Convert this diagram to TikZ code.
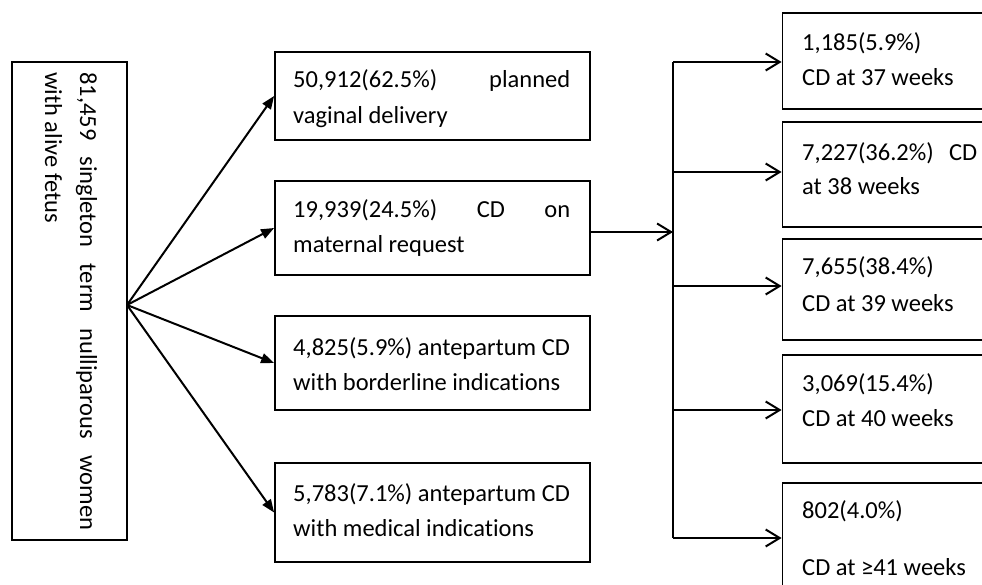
\documentclass[tikz,border=0pt]{standalone}
\usepackage{fontspec}
\setmainfont{Carlito}[Ligatures=NoCommon]
\usetikzlibrary{arrows.meta}
\begin{document}
\begin{tikzpicture}[x=1pt,y=-1pt,
  box/.style={draw,line width=1.8pt,inner sep=0pt,minimum width=#1},
  txt/.style={anchor=base west,inner sep=0pt,font=\fontsize{24.5}{36}\selectfont},
  fanarrow/.style={line width=2pt,-{Triangle[length=13pt,width=10pt]}},
  barb/.style={line width=2pt,-{Straight Barb[length=14pt,width=17pt,line width=2pt]}}]
\useasboundingbox (0,0) rectangle (982,585);
\clip (0,0) rectangle (982,585);
% left box
\node[box=115pt,minimum height=478pt] (left) at (69.5,301) {};
\node[txt,rotate=-90] (l1) at (80,72) {\hbox to 458pt{81,459\hfill singleton\hfill term\hfill nulliparous\hfill women}};
\node[txt,rotate=-90] (l2) at (45,72) {with alive fetus};
% middle boxes
\node[box=315pt,minimum height=88pt] (m1) at (432.5,96) {};
\node[box=315pt,minimum height=94pt] (m2) at (432.5,228) {};
\node[box=315pt,minimum height=94pt] (m3) at (432.5,363) {};
\node[box=315pt,minimum height=99pt] (m4) at (432.5,512.5) {};
\node[txt] (m1a) at (293,88) {\hbox to 277pt{50,912(62.5\%)\hfill planned}};
\node[txt] (m1b) at (293,124) {vaginal delivery};
\node[txt] (m2a) at (293,218) {\hbox to 277pt{19,939(24.5\%)\hfill CD\hfill on}};
\node[txt] (m2b) at (293,253) {maternal request};
\node[txt] (m3a) at (293,355) {4,825(5.9\%) antepartum CD};
\node[txt] (m3b) at (293,390) {with borderline indications};
\node[txt] (m4a) at (293,501) {5,783(7.1\%) antepartum CD};
\node[txt] (m4b) at (293,536) {with medical indications};
% right boxes
\node[box=213pt,minimum height=96pt] (r1) at (889,61) {};
\node[box=213pt,minimum height=105pt] (r2) at (889,174.5) {};
\node[box=213pt,minimum height=101pt] (r3) at (889,289.5) {};
\node[box=213pt,minimum height=108pt] (r4) at (889,409) {};
\node[box=213pt,minimum height=110pt] (r5) at (889,538) {};
\node[txt] (r1a) at (802,51) {1,185(5.9\%)};
\node[txt] (r1b) at (802,86) {CD at 37 weeks};
\node[txt] (r2a) at (802,161) {\hbox to 175pt{7,227(36.2\%)\hfill CD}};
\node[txt] (r2b) at (802,195) {at 38 weeks};
\node[txt] (r3a) at (802,275) {7,655(38.4\%)};
\node[txt] (r3b) at (802,311) {CD at 39 weeks};
\node[txt] (r4a) at (802,391) {3,069(15.4\%)};
\node[txt] (r4b) at (802,426) {CD at 40 weeks};
\node[txt] (r5a) at (802,518) {802(4.0\%)};
\node[txt] (r5b) at (802,575) {CD at ≥41 weeks};
% fan arrows
\coordinate (fan) at (127,305);
\foreach \m in {m1,m2,m3,m4} \draw[fanarrow] (fan) -- (\m.west);
% right connector tree
\coordinate (j) at (673,232);
\coordinate (b1) at (673,62);
\coordinate (b2) at (673,172);
\coordinate (b3) at (673,286);
\coordinate (b4) at (673,410);
\coordinate (b5) at (673,538);
\draw[barb] (m2.east |- j) -- (j);
\draw[line width=2pt] (b1) -- (b5);
\draw[barb] (b1) -- (r1.west |- b1);
\draw[barb] (b2) -- (r2.west |- b2);
\draw[barb] (b3) -- (r3.west |- b3);
\draw[barb] (b4) -- (r4.west |- b4);
\draw[barb] (b5) -- (r5.west |- b5);
\end{tikzpicture}
\end{document}
